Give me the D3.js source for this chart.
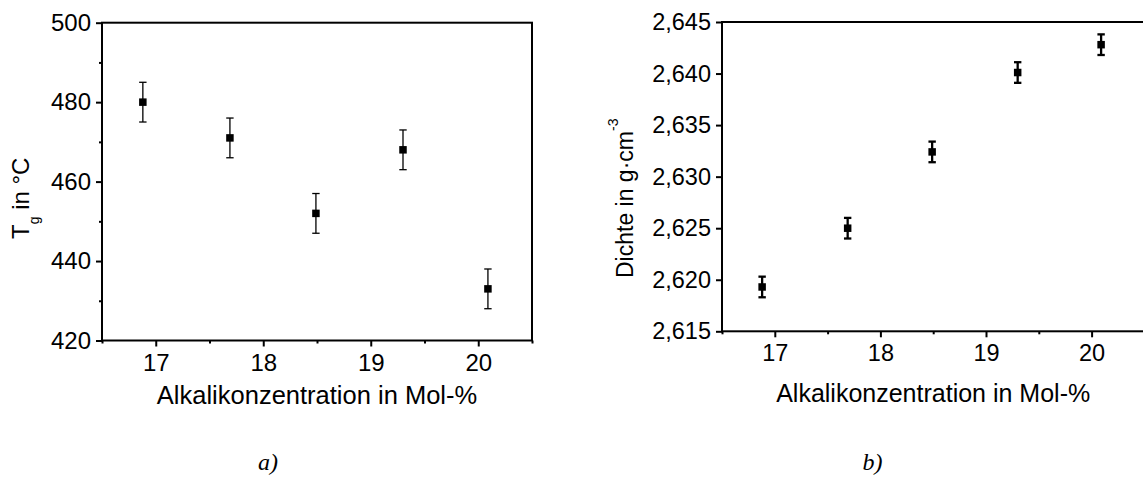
<!DOCTYPE html>
<html>
<head>
<meta charset="utf-8">
<script src="https://cdn.jsdelivr.net/npm/d3@7"></script>
<style>
  html, body { margin: 0; padding: 0; background: #fff; }
  svg { display: block; font-family: "Liberation Sans", Arial, sans-serif; }
</style>
</head>
<body>
<svg id="chart" width="1143" height="477"></svg>
<script>
// ---- Data ----
const alkali = [16.88, 17.69, 18.49, 19.30, 20.09];          // Mol-%
const tg = [480, 471, 452, 468, 433];                         // °C
const tgErr = [5, 5, 5, 5, 5];
const density = [2.6193, 2.6250, 2.6324, 2.6401, 2.6428];     // g·cm^-3
const densityErr = [0.001, 0.001, 0.001, 0.001, 0.001];
const xTicks = [17, 18, 19, 20];
const xMinorTicks = [16.5, 17.5, 18.5, 19.5, 20.5];
const yTicksA = [420, 440, 460, 480, 500];
const yMinorTicksA = [430, 450, 470, 490];
const yTicksB = [2.615, 2.620, 2.625, 2.630, 2.635, 2.640, 2.645];
const xTitle = "Alkalikonzentration in Mol-%";
const captions = ["a)", "b)"];

const svg = d3.select("#chart");
svg.append("rect").attr("width", 1143).attr("height", 477).attr("fill", "#fff");

const de = d3.formatLocale({decimal: ",", thousands: ".", grouping: [3], currency: ["", " €"]});
const fmtB = de.format(".3f");

function panel(cfg) {
  const g = svg.append("g");
  const x = d3.scaleLinear().domain([16.5, 20.5]).range([cfg.left, cfg.right]);
  const y = d3.scaleLinear().domain(cfg.yDomain).range([cfg.bottom, cfg.top]);

  // x axis major
  const gx = g.append("g").attr("transform", `translate(0,${cfg.bottom})`)
    .call(d3.axisBottom(x).tickValues(xTicks).tickSize(6).tickSizeOuter(0).tickPadding(7).tickFormat(d3.format("d")));
  gx.select(".domain").remove();
  gx.selectAll("line").attr("stroke-width", 2);
  gx.selectAll("text").attr("font-size", cfg.tickFont).attr("font-family", "Liberation Sans, Arial, sans-serif").attr("fill", "#000");
  // x axis minor
  const gxm = g.append("g").attr("transform", `translate(0,${cfg.bottom})`)
    .call(d3.axisBottom(x).tickValues(xMinorTicks).tickSize(3).tickSizeOuter(0).tickFormat(""));
  gxm.select(".domain").remove();
  gxm.selectAll("line").attr("stroke-width", 2);

  // y axis major
  const gy = g.append("g").attr("transform", `translate(${cfg.left},0)`)
    .call(d3.axisLeft(y).tickValues(cfg.yTicks).tickSize(6).tickSizeOuter(0).tickPadding(5).tickFormat(cfg.yFmt));
  gy.select(".domain").remove();
  gy.selectAll("line").attr("stroke-width", 2);
  gy.selectAll("text").attr("font-size", cfg.tickFont).attr("font-family", "Liberation Sans, Arial, sans-serif").attr("fill", "#000");
  if (cfg.yMinor) {
    const gym = g.append("g").attr("transform", `translate(${cfg.left},0)`)
      .call(d3.axisLeft(y).tickValues(cfg.yMinor).tickSize(3).tickSizeOuter(0).tickFormat(""));
    gym.select(".domain").remove();
    gym.selectAll("line").attr("stroke-width", 2);
  }

  // frame
  g.append("rect")
    .attr("x", cfg.left).attr("y", cfg.top)
    .attr("width", cfg.right - cfg.left).attr("height", cfg.bottom - cfg.top)
    .attr("fill", "none").attr("stroke", "#000").attr("stroke-width", 2);

  // error bars
  const cap = 3.7;
  const eb = g.append("g").attr("stroke", "#000").attr("stroke-width", cfg.errWidth);
  cfg.ys.forEach((v, i) => {
    const cx = x(alkali[i]);
    const y1 = y(v + cfg.errs[i]), y2 = y(v - cfg.errs[i]);
    eb.append("line").attr("x1", cx).attr("x2", cx).attr("y1", y1).attr("y2", y2);
    eb.append("line").attr("x1", cx - cap).attr("x2", cx + cap).attr("y1", y1).attr("y2", y1);
    eb.append("line").attr("x1", cx - cap).attr("x2", cx + cap).attr("y1", y2).attr("y2", y2);
  });
  // markers
  const ms = 7.5;
  g.append("g").selectAll("rect").data(cfg.ys).join("rect")
    .attr("x", (d, i) => x(alkali[i]) - ms / 2)
    .attr("y", d => y(d) - ms / 2)
    .attr("width", ms).attr("height", ms).attr("fill", "#000");

  // x title
  g.append("text").attr("x", (cfg.left + cfg.right) / 2).attr("y", cfg.xTitleY)
    .attr("text-anchor", "middle").attr("font-size", cfg.titleFont).attr("fill", "#000").text(xTitle);

  // caption
  g.append("text").attr("x", cfg.capX).attr("y", 470).attr("text-anchor", "middle")
    .attr("font-family", "Liberation Serif, Times New Roman, serif").attr("font-style", "italic")
    .attr("font-size", 24).attr("fill", "#000").text(cfg.caption);
  return g;
}

const gA = panel({
  left: 102, right: 532, top: 22.7, bottom: 340.5,
  yDomain: [420, 500], yTicks: yTicksA, yMinor: yMinorTicksA, yFmt: d3.format("d"),
  ys: tg, errs: tgErr, errWidth: 1.3, tickFont: 24, titleFont: 25.5, xTitleY: 404,
  capX: 268, caption: captions[0]
});
// y title A: T_g in °C
const tA = gA.append("text").attr("transform", "translate(29,239) rotate(-90)")
  .attr("font-size", 24).attr("fill", "#000");
tA.append("tspan").text("T");
tA.append("tspan").attr("font-size", 14).attr("dy", 10).text("g");
tA.append("tspan").attr("dy", -10).text(" in °C");

const gB = panel({
  left: 722, right: 1144.4, top: 22, bottom: 331.3,
  yDomain: [2.615, 2.645], yTicks: yTicksB, yMinor: null, yFmt: fmtB,
  ys: density, errs: densityErr, errWidth: 2.3, tickFont: 23.5, titleFont: 25, xTitleY: 401.7,
  capX: 872.6, caption: captions[1]
});
const tB = gB.append("text").attr("transform", "translate(633,278) rotate(-90)")
  .attr("font-size", 23).attr("fill", "#000");
tB.append("tspan").text("Dichte in g·cm");
tB.append("tspan").attr("font-size", 14).attr("dy", -15).text("-3");
</script>
</body>
</html>
